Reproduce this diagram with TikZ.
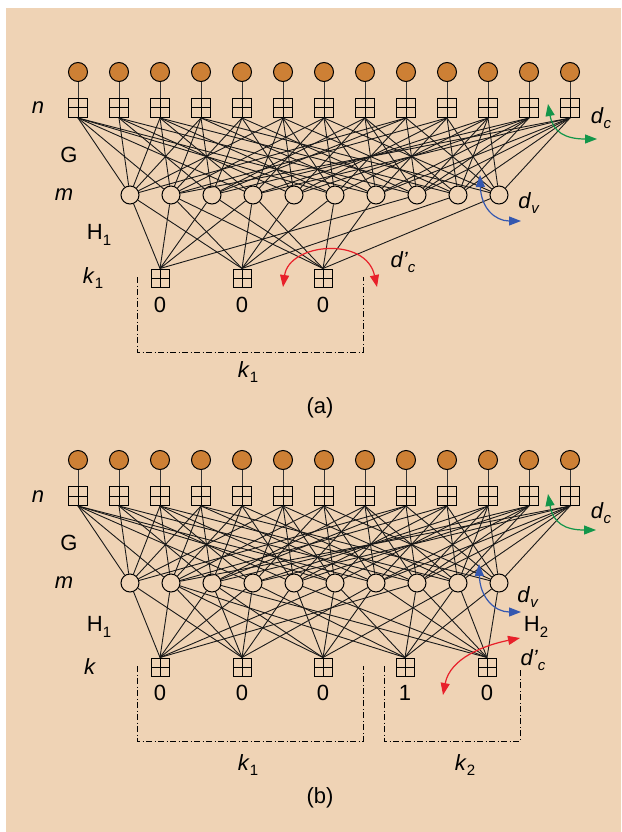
\documentclass[tikz,border=0pt]{standalone}
\usepackage{fontspec}
\setmainfont{Liberation Sans}
\usetikzlibrary{arrows.meta}
\definecolor{bgtan}{HTML}{EFD3B5}
\definecolor{varor}{HTML}{CD8035}
\definecolor{arrgreen}{HTML}{13964A}
\definecolor{arrblue}{HTML}{3558B0}
\definecolor{arrred}{HTML}{E8202A}
\newcommand{\lsub}[1]{\raisebox{-0.45ex}{\fontsize{15}{15}\selectfont #1}}
\begin{document}
\begin{tikzpicture}[x=1pt,y=-1pt,
  topvar/.style={circle,draw,line width=1pt,minimum size=19pt,inner sep=0pt,fill=varor},
  chk/.style={rectangle,draw,line width=1pt,minimum size=19pt,inner sep=0pt,
    path picture={\draw[line width=1pt] (path picture bounding box.north) -- (path picture bounding box.south) (path picture bounding box.west) -- (path picture bounding box.east);}},
  kchk/.style={chk,minimum size=18pt},
  midvar/.style={circle,draw,line width=1pt,minimum size=18pt,inner sep=0pt,fill=bgtan},
  edge/.style={line width=0.9pt,black!90},
  lbl/.style={font=\fontsize{22}{26}\selectfont,inner sep=0pt},
  bracket/.style={line width=0.9pt,dash pattern=on 6pt off 2.5pt on 1pt off 2.5pt},
  carrow/.style={line width=1.2pt,{Triangle[length=12pt,width=9pt]}-{Triangle[length=12pt,width=9pt]}}
]
\useasboundingbox (0,0) rectangle (621,832);
\fill[bgtan] (6,8) rectangle (621,832);

% ---------- two panels: nodes of the G graph ----------
\foreach \p/\oy in {a/0,b/388}{
  \foreach \i in {1,...,13}{
    \pgfmathsetmacro{\xx}{78+41*(\i-1)}
    \node[topvar] (\p v\i) at (\xx,72+\oy) {};
    \node[chk] (\p n\i) at (\xx,108+\oy) {};
    \draw[line width=0.9pt,black!80] (\p v\i) -- (\p n\i);
  }
  \foreach \j in {1,...,10}{
    \pgfmathsetmacro{\xx}{130+41*(\j-1)}
    \node[midvar] (\p m\j) at (\xx,195+\oy) {};
  }
  \foreach \a/\b in {1/1,1/2,1/4,1/6,1/7,
                     2/1,2/3,2/5,2/8,
                     3/1,3/2,3/4,3/6,3/9,
                     4/1,4/2,4/3,4/7,4/10,
                     5/2,5/3,5/5,5/8,
                     6/1,6/4,6/5,6/6,6/9,
                     7/2,7/4,7/6,7/7,7/10,
                     8/3,8/5,8/7,8/8,8/9,
                     9/1,9/3,9/6,9/8,9/10,
                     10/2,10/5,10/7,10/9,10/10,
                     11/4,11/6,11/8,11/9,11/10,
                     12/3,12/5,12/7,12/8,12/9,
                     13/2,13/4,13/7,13/8,13/9,13/10}{
    \draw[edge] (\p n\a.south) -- (\p m\b);
  }
}

% ---------- panel (a): H1 ----------
\node[kchk] (ak1) at (160,278) {};
\node[kchk] (ak2) at (242,278) {};
\node[kchk] (ak3) at (323,278) {};
\foreach \b/\k in {1/1,2/1,3/1,4/1,8/1,
                   1/2,2/2,4/2,5/2,6/2,9/2,
                   2/3,3/3,4/3,6/3,7/3,10/3}{
  \draw[edge] (am\b) -- (ak\k.north);
}
\node[lbl] (a0a) at (160,305) {0};
\node[lbl] (a0b) at (242,305) {0};
\node[lbl] (a0c) at (323,305) {0};
\coordinate (abr1) at (137,277);
\coordinate (abr2) at (137,352);
\coordinate (abr3) at (363,352);
\coordinate (abr4) at (363,277);
\draw[bracket] (abr1) -- (abr2) -- (abr3) -- (abr4);
\node[lbl] (akone) at (248,372) {\textit{k}\lsub{1}};
\node[lbl] (acap) at (320,408) {(a)};

% left labels (a)
\node[lbl] (aln) at (38,108) {\textit{n}};
\node[lbl] (alG) at (69,155) {G};
\node[lbl] (alm) at (64,195) {\textit{m}};
\node[lbl] (alH) at (99,235) {H\lsub{1}};
\node[lbl] (alk) at (93,278) {\textit{k}\lsub{1}};
% right labels (a)
\node[lbl] (adc) at (601,118) {\textit{d}\lsub{\textit{c}}};
\node[lbl] (adv) at (529,203) {\textit{d}\lsub{\textit{v}}};
\node[lbl] (adpc) at (403,262) {\textit{d’}\lsub{\textit{c}}};

% curved arrows (a)
\coordinate (ag1) at (548,104); \coordinate (ag2) at (597,139);
\draw[carrow,arrgreen] (ag1) .. controls (553,132) and (565,139) .. (ag2);
\coordinate (ab1) at (480,175); \coordinate (ab2) at (521,221);
\draw[carrow,arrblue] (ab1) .. controls (481,208) and (495,221) .. (ab2);
\coordinate (ar1) at (283,287); \coordinate (ar2) at (377,287);
\draw[carrow,arrred] (ar1) .. controls (289,243) and (366,236) .. (ar2);

% ---------- panel (b): H ----------
\node[kchk] (bk1) at (160,667) {};
\node[kchk] (bk2) at (242,667) {};
\node[kchk] (bk3) at (323,667) {};
\node[kchk] (bk4) at (405,667) {};
\node[kchk] (bk5) at (487,667) {};
\foreach \b/\k in {1/1,2/1,3/1,4/1,6/1,8/1,
                   1/2,2/2,3/2,4/2,5/2,7/2,
                   2/3,3/3,5/3,6/3,7/3,9/3,
                   2/4,4/4,6/4,8/4,9/4,10/4,
                   3/5,5/5,7/5,8/5,9/5,10/5}{
  \draw[edge] (bm\b) -- (bk\k.north);
}
\node[lbl] (b0a) at (160,693) {0};
\node[lbl] (b0b) at (242,693) {0};
\node[lbl] (b0c) at (323,693) {0};
\node[lbl] (b1d) at (405,693) {1};
\node[lbl] (b0e) at (487,693) {0};
\coordinate (bbr1) at (137,666);
\coordinate (bbr2) at (137,741);
\coordinate (bbr3) at (363,741);
\coordinate (bbr4) at (363,666);
\draw[bracket] (bbr1) -- (bbr2) -- (bbr3) -- (bbr4);
\coordinate (bbs1) at (384,666);
\coordinate (bbs2) at (384,741);
\coordinate (bbs3) at (520,741);
\coordinate (bbs4) at (520,668);
\draw[bracket] (bbs1) -- (bbs2) -- (bbs3) -- (bbs4);
\node[lbl] (bkone) at (248,765) {\textit{k}\lsub{1}};
\node[lbl] (bktwo) at (465,765) {\textit{k}\lsub{2}};
\node[lbl] (bcap) at (320,798) {(b)};

% left labels (b)
\node[lbl] (bln) at (38,497) {\textit{n}};
\node[lbl] (blG) at (69,543) {G};
\node[lbl] (blm) at (64,583) {\textit{m}};
\node[lbl] (blH) at (99,627) {H\lsub{1}};
\node[lbl] (blk) at (90,667) {\textit{k}};
% right labels (b)
\node[lbl] (bdc) at (601,513) {\textit{d}\lsub{\textit{c}}};
\node[lbl] (bdv) at (528,597) {\textit{d}\lsub{\textit{v}}};
\node[lbl] (bH2) at (536,627) {H\lsub{2}};
\node[lbl] (bdpc) at (533,660) {\textit{d’}\lsub{\textit{c}}};

% curved arrows (b)
\coordinate (bg1) at (548,494); \coordinate (bg2) at (596,530);
\draw[carrow,arrgreen] (bg1) .. controls (553,523) and (565,530) .. (bg2);
\coordinate (bb1) at (479,564); \coordinate (bb2) at (521,612);
\draw[carrow,arrblue] (bb1) .. controls (480,598) and (495,612) .. (bb2);
\coordinate (br1) at (443,695); \coordinate (br2) at (520,638);
\draw[carrow,arrred] (br1) .. controls (450,658) and (485,645) .. (br2);
\end{tikzpicture}
\end{document}
